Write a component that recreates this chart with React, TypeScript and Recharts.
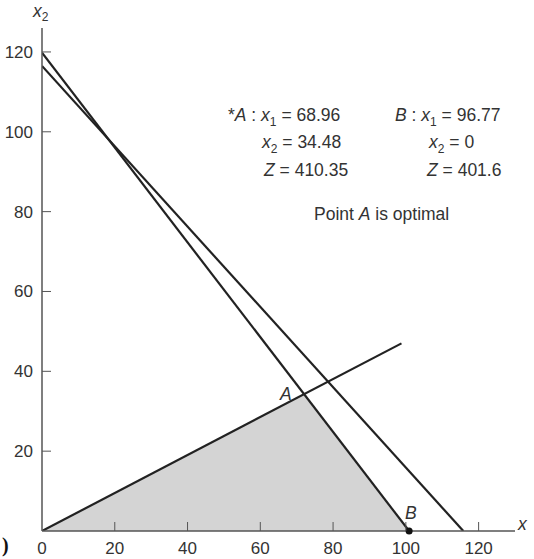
import React from "react"
import {
  ComposedChart,
  Line,
  Area,
  ReferenceDot,
  XAxis,
  YAxis,
} from "recharts"

// constraint lines, as drawn in the picture
const constraintOne = [
  { x: 0, y: 116.5 },
  { x: 115.8, y: 0 },
]
const constraintTwo = [
  { x: 0, y: 119.8 },
  { x: 100.9, y: 0 },
]
const constraintThree = [
  { x: 0, y: 0 },
  { x: 98.8, y: 47 },
]
// feasible region corners: origin, A, B
const feasibleRegion = [
  { x: 0, y: 0 },
  { x: 72, y: 34.3 },
  { x: 100.9, y: 0 },
]
const cornerB = { x: 100.9, y: 0 }

const xTicks = [0, 20, 40, 60, 80, 100, 120]
const yTicks = [20, 40, 60, 80, 100, 120]

const ink = "#222"
const axisColor = "#555"
const textColor = "#333"
const font = "'Liberation Sans', Arial, sans-serif"

const X_GAP = 17
const Y_GAP = 9

const XTick = (props: any) => {
  const { x, y, payload } = props
  const axisY = y - X_GAP
  return (
    <g>
      {payload.value !== 0 && (
        <line x1={x} x2={x} y1={axisY} y2={axisY - 9} stroke={axisColor} strokeWidth={1} />
      )}
      <text x={x} y={y} dy="0.35em" textAnchor="middle" fontSize={17} fill={textColor} fontFamily={font}>
        {payload.value}
      </text>
    </g>
  )
}

const YTick = (props: any) => {
  const { x, y, payload } = props
  const axisX = x + Y_GAP
  return (
    <g>
      <line x1={axisX} x2={axisX + 9} y1={y} y2={y} stroke={axisColor} strokeWidth={1} />
      <text x={x} y={y} dy="0.35em" textAnchor="end" fontSize={17} fill={textColor} fontFamily={font}>
        {payload.value}
      </text>
    </g>
  )
}

// italic variable with a subscript, then the rest of the row back on the baseline
const Var = ({ v, n, rest }: { v: string; n: string; rest: string }) => (
  <>
    <tspan fontStyle="italic">{v}</tspan>
    <tspan dy={5} fontSize={12}>{n}</tspan>
    <tspan dy={-5}>{rest}</tspan>
  </>
)

export default function App() {
  const t = { fontSize: 17.5, fill: textColor, fontFamily: font }
  return (
    <div style={{ position: "absolute", left: 0, top: 0, width: 534, height: 559, background: "#fff" }}>
      <ComposedChart
        width={534}
        height={559}
        margin={{ top: 28, right: 19, bottom: 0, left: 0 }}
      >
        <XAxis
          dataKey="x"
          type="number"
          domain={[0, 130]}
          ticks={xTicks}
          tick={<XTick />}
          tickLine={false}
          tickSize={0}
          tickMargin={X_GAP}
          height={28}
          axisLine={{ stroke: axisColor, strokeWidth: 1.5 }}
          allowDataOverflow
        />
        <YAxis
          dataKey="y"
          type="number"
          domain={[0, 126]}
          ticks={yTicks}
          tick={<YTick />}
          tickLine={false}
          tickSize={0}
          tickMargin={Y_GAP}
          width={42}
          axisLine={{ stroke: axisColor, strokeWidth: 1.5 }}
          allowDataOverflow
        />
        <Area
          data={feasibleRegion}
          dataKey="y"
          type="linear"
          stroke="none"
          fill="#d4d4d4"
          fillOpacity={1}
          isAnimationActive={false}
        />
        <Line data={constraintOne} dataKey="y" type="linear" stroke={ink} strokeWidth={2.2} dot={false} isAnimationActive={false} />
        <Line data={constraintTwo} dataKey="y" type="linear" stroke={ink} strokeWidth={2.2} dot={false} isAnimationActive={false} />
        <Line data={constraintThree} dataKey="y" type="linear" stroke={ink} strokeWidth={2.2} dot={false} isAnimationActive={false} />
        <ReferenceDot x={cornerB.x} y={cornerB.y} r={3.5} fill="#111" stroke="none" ifOverflow="visible" />

        {/* axis titles */}
        <text x={33} y={17} {...t} fontStyle="italic">
          x<tspan dy={4} fontSize={12} fontStyle="normal">2</tspan>
        </text>
        <text x={518} y={530} {...t} fontStyle="italic">x</text>
        <text x={2} y={552} fontSize={20} fill="#111" fontFamily="'Liberation Serif', serif" fontWeight="bold">)</text>

        {/* corner labels */}
        <text x={280} y={400} {...t} fontStyle="italic">A</text>
        <text x={405} y={519} {...t} fontStyle="italic">B</text>

        {/* solution annotations */}
        <text x={228} y={121} {...t}>
          *<tspan fontStyle="italic">A</tspan> : <Var v="x" n="1" rest=" = 68.96" />
        </text>
        <text x={262} y={148} {...t}>
          <Var v="x" n="2" rest=" = 34.48" />
        </text>
        <text x={264} y={176} {...t}>
          <tspan fontStyle="italic">Z</tspan> = 410.35
        </text>
        <text x={395} y={121} {...t}>
          <tspan fontStyle="italic">B</tspan> : <Var v="x" n="1" rest=" = 96.77" />
        </text>
        <text x={429} y={148} {...t}>
          <Var v="x" n="2" rest=" = 0" />
        </text>
        <text x={427} y={176} {...t}>
          <tspan fontStyle="italic">Z</tspan> = 401.6
        </text>
        <text x={314} y={220} {...t}>
          Point <tspan fontStyle="italic">A</tspan> is optimal
        </text>
      </ComposedChart>
    </div>
  )
}
